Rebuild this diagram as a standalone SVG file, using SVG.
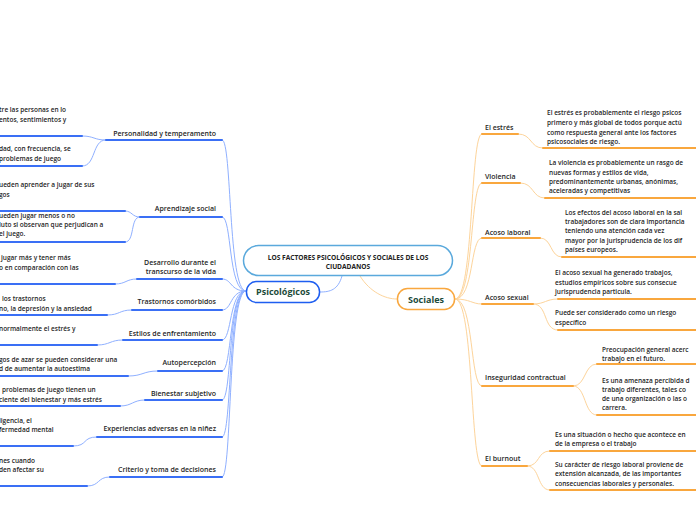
<svg xmlns="http://www.w3.org/2000/svg" width="696" height="520" viewBox="0 0 696 520">
<style>
text{font-family:"Open Sans","Noto Sans","Liberation Sans",sans-serif;fill:#262626;font-weight:600}
.t{font-size:7px}
.l{font-size:6.5px}
.tl{text-anchor:end}
.ct{font-size:6.6px;font-weight:700;text-anchor:middle;fill:#222}
.ub{stroke:#3a6ff5;stroke-width:2;fill:none;stroke-linecap:round}
.cb{stroke:#8fb0ff;stroke-width:1;fill:none}
.uo{stroke:#f9a73e;stroke-width:2;fill:none;stroke-linecap:round}
.co{stroke:#fdd49b;stroke-width:1;fill:none}
.nd{font-size:9px;font-weight:700;fill:#1d4b3a;text-anchor:middle}
</style>
<rect width="696" height="520" fill="#ffffff"/>
<g id="connectors">
<path class="cb" d="M342 276 C338 290 330 292 320 292"/>
<path class="co" d="M360 276 C370 292 385 299 397 299"/>
<path class="cb" d="M246 291 C228 291 232 140 222 140"/>
<path class="cb" d="M246 291 C228 291 232 217 222 217"/>
<path class="cb" d="M246 291 C230 291 232 279 222 279"/>
<path class="cb" d="M246 291 C230 291 232 310 222 310"/>
<path class="cb" d="M246 291 C229 291 232 340 222 340"/>
<path class="cb" d="M246 291 C229 291 232 371 222 371"/>
<path class="cb" d="M246 291 C228 291 232 400 222 400"/>
<path class="cb" d="M246 291 C228 291 232 437 222 437"/>
<path class="cb" d="M246 291 C228 291 232 477 222 477"/>
<path class="cb" d="M82 136 C94 136 94 140 106 140"/>
<path class="cb" d="M82 166 C96 166 92 140 106 140"/>
<path class="cb" d="M125 211 C132 211 132 217 140 217"/>
<path class="cb" d="M125 242 C135 242 130 217 140 217"/>
<path class="cb" d="M115 284 C126 284 126 279 137 279"/>
<path class="cb" d="M107 315 C120 315 119 310 132 310"/>
<path class="cb" d="M97 345 C110 345 110 340 123 340"/>
<path class="cb" d="M128 376 C143 376 143 371 158 371"/>
<path class="cb" d="M120 406 C132 406 133 400 145 400"/>
<path class="cb" d="M73 446 C88 446 82 437 97 437"/>
<path class="cb" d="M87 486 C100 486 97 477 110 477"/>
<path class="co" d="M455 299 C474 299 470 134 482 134"/>
<path class="co" d="M455 299 C474 299 470 183 482 183"/>
<path class="co" d="M455 299 C474 299 470 238 482 238"/>
<path class="co" d="M455 299 C470 299 472 304 482 304"/>
<path class="co" d="M455 299 C474 299 470 386 482 386"/>
<path class="co" d="M455 299 C474 299 470 466 482 466"/>
<path class="co" d="M518 134 C532 134 530 148 543 148"/>
<path class="co" d="M520 183 C534 183 532 198 545 198"/>
<path class="co" d="M540 238 C552 238 550 257 562 257"/>
<path class="co" d="M533 304 C545 304 546 299 558 299"/>
<path class="co" d="M533 304 C548 304 543 330 558 330"/>
<path class="co" d="M573 386 C586 386 584 364 597 364"/>
<path class="co" d="M573 386 C586 386 584 415 597 415"/>
<path class="co" d="M527 466 C540 466 537 451 550 451"/>
<path class="co" d="M527 466 C540 466 537 490 550 490"/>
</g>
<g id="central">
<rect x="243.5" y="245.5" width="209" height="30" rx="15" fill="#ffffff" stroke="#5aa9dc" stroke-width="1.5"/>
<text class="ct" x="348" y="260">LOS FACTORES PSICOLÓGICOS Y SOCIALES DE LOS</text>
<text class="ct" x="348" y="269">CIUDADANOS</text>
</g>
<g id="psicologicos">
<rect x="246.5" y="281.5" width="73" height="21" rx="10" fill="#ffffff" stroke="#1e5ef0" stroke-width="1.5"/>
<text class="nd" x="283" y="295">Psicológicos</text>
</g>
<g id="sociales">
<rect x="397.5" y="288.5" width="57" height="21" rx="10" fill="#ffffff" stroke="#f9a73e" stroke-width="1.5"/>
<text class="nd" x="426" y="302.5">Sociales</text>
</g>
<g id="personalidad">
<text class="t tl" x="216" y="135.5">Personalidad y temperamento</text>
<path class="ub" d="M106 140 H222"/>
</g>
<g id="leaf-p1">
<text class="l" x="-1" y="111.5">tre las personas en lo</text>
<text class="l" x="-1" y="121.5">entos, sentimientos y</text>
<path class="ub" d="M-2 136 H82"/>
</g>
<g id="leaf-p2">
<text class="l" x="-1" y="150.5">dad, con frecuencia, se</text>
<text class="l" x="-1" y="160.5">problemas de juego</text>
<path class="ub" d="M-2 166 H82"/>
</g>
<g id="aprendizaje">
<text class="t tl" x="216" y="210.5">Aprendizaje social</text>
<path class="ub" d="M140 217 H222"/>
</g>
<g id="leaf-a1">
<text class="l" x="-1" y="186.5">ueden aprender a jugar de sus</text>
<text class="l" x="-1" y="196.5">gos</text>
<path class="ub" d="M-2 211 H125"/>
</g>
<g id="leaf-a2">
<text class="l" x="-1" y="217.5">ueden jugar menos o no</text>
<text class="l" x="-1" y="226.5">luto si observan que perjudican a</text>
<text class="l" x="-1" y="235.5">el juego.</text>
<path class="ub" d="M-2 242 H125"/>
</g>
<g id="desarrollo">
<text class="t tl" x="216" y="264.5">Desarrollo durante el</text>
<text class="t tl" x="216" y="273.5">transcurso de la vida</text>
<path class="ub" d="M137 279 H222"/>
</g>
<g id="leaf-d1">
<text class="l" x="1" y="259.5">jugar más y tener más</text>
<text class="l" x="-1" y="269.5">o en comparación con las</text>
<path class="ub" d="M-2 284 H115"/>
</g>
<g id="trastornos">
<text class="t tl" x="216" y="303.5">Trastornos comórbidos</text>
<path class="ub" d="M132 310 H222"/>
</g>
<g id="leaf-t1">
<text class="l" x="2" y="300.5">los trastornos</text>
<text class="l" x="-1" y="310.5">no, la depresión y la ansiedad</text>
<path class="ub" d="M-2 315 H107"/>
</g>
<g id="estilos">
<text class="t tl" x="216" y="335.5">Estilos de enfrentamiento</text>
<path class="ub" d="M123 340 H222"/>
</g>
<g id="leaf-e1">
<text class="l" x="-1" y="330.5">normalmente el estrés y</text>
<path class="ub" d="M-2 345 H97"/>
</g>
<g id="autopercepcion">
<text class="t tl" x="216" y="364.5">Autopercepción</text>
<path class="ub" d="M158 371 H222"/>
</g>
<g id="leaf-au1">
<text class="l" x="-1" y="361.5">gos de azar se pueden considerar una</text>
<text class="l" x="-1" y="370.5">d de aumentar la autoestima</text>
<path class="ub" d="M-2 376 H128"/>
</g>
<g id="bienestar">
<text class="t tl" x="216" y="395.5">Bienestar subjetivo</text>
<path class="ub" d="M145 400 H222"/>
</g>
<g id="leaf-b1">
<text class="l" x="2" y="391.5">problemas de juego tienen un</text>
<text class="l" x="-1" y="401.5">ciente del bienestar y más estrés</text>
<path class="ub" d="M-2 406 H120"/>
</g>
<g id="experiencias">
<text class="t tl" x="216" y="430.5">Experiencias adversas en la niñez</text>
<path class="ub" d="M97 437 H222"/>
</g>
<g id="leaf-x1">
<text class="l" x="-1" y="422.5">ligencia, el</text>
<text class="l" x="-1" y="431.5">fermedad mental</text>
<path class="ub" d="M-2 446 H73"/>
</g>
<g id="criterio">
<text class="t tl" x="216" y="471.5">Criterio y toma de decisiones</text>
<path class="ub" d="M110 477 H222"/>
</g>
<g id="leaf-c1">
<text class="l" x="-1" y="462.5">nes cuando</text>
<text class="l" x="-1" y="471.5">den afectar su</text>
<path class="ub" d="M-2 486 H87"/>
</g>
<g id="estres">
<text class="t" x="485" y="129.5">El estrés</text>
<path class="uo" d="M482 134 H518"/>
</g>
<g id="leaf-estres">
<text class="l" x="547" y="115">El estrés es probablemente el riesgo psicos</text>
<text class="l" x="547" y="125">primero y más global de todos porque actú</text>
<text class="l" x="547" y="134.5">como respuesta general ante los factores</text>
<text class="l" x="547" y="144">psicosociales de riesgo.</text>
<path class="uo" d="M543 148 H698"/>
</g>
<g id="violencia">
<text class="t" x="485" y="178.5">Violencia</text>
<path class="uo" d="M482 183 H520"/>
</g>
<g id="leaf-violencia">
<text class="l" x="549" y="164.5">La violencia es probablemente un rasgo de</text>
<text class="l" x="549" y="174.5">nuevas formas y estilos de vida,</text>
<text class="l" x="549" y="183.5">predominantemente urbanas, anónimas,</text>
<text class="l" x="549" y="192.5">aceleradas y competitivas</text>
<path class="uo" d="M545 198 H698"/>
</g>
<g id="acoso-laboral">
<text class="t" x="485" y="234.5">Acoso laboral</text>
<path class="uo" d="M482 238 H540"/>
</g>
<g id="leaf-laboral">
<text class="l" x="565" y="214.5">Los efectos del acoso laboral en la sal</text>
<text class="l" x="565" y="223.5">trabajadores son de clara importancia</text>
<text class="l" x="565" y="232.5">teniendo una atención cada vez</text>
<text class="l" x="565" y="242.5">mayor por la jurisprudencia de los dif</text>
<text class="l" x="565" y="251.5">países europeos.</text>
<path class="uo" d="M562 257 H698"/>
</g>
<g id="acoso-sexual">
<text class="t" x="485" y="299.5">Acoso sexual</text>
<path class="uo" d="M482 304 H533"/>
</g>
<g id="leaf-sexual1">
<text class="l" x="555" y="274.5">El acoso sexual ha generado trabajos,</text>
<text class="l" x="555" y="284.5">estudios empíricos sobre sus consecue</text>
<text class="l" x="555" y="293.5">jurisprudencia particula.</text>
<path class="uo" d="M558 299 H698"/>
</g>
<g id="leaf-sexual2">
<text class="l" x="555" y="314.5">Puede ser considerado como un riesgo</text>
<text class="l" x="555" y="324.5">específico</text>
<path class="uo" d="M558 330 H698"/>
</g>
<g id="inseguridad">
<text class="t" x="485" y="379.5">Inseguridad contractual</text>
<path class="uo" d="M482 386 H573"/>
</g>
<g id="leaf-inseg1">
<text class="l" x="602" y="351.5">Preocupación general acerc</text>
<text class="l" x="602" y="360.5">trabajo en el futuro.</text>
<path class="uo" d="M597 364 H698"/>
</g>
<g id="leaf-inseg2">
<text class="l" x="602" y="382.5">Es una amenaza percibida d</text>
<text class="l" x="602" y="391.5">trabajo diferentes, tales co</text>
<text class="l" x="602" y="400.5">de una organización o las o</text>
<text class="l" x="602" y="409.5">carrera.</text>
<path class="uo" d="M597 415 H698"/>
</g>
<g id="burnout">
<text class="t" x="485" y="460.5">El burnout</text>
<path class="uo" d="M482 466 H527"/>
</g>
<g id="leaf-burnout1">
<text class="l" x="555" y="436.5">Es una situación o hecho que acontece en</text>
<text class="l" x="555" y="445.5">de la empresa o el trabajo</text>
<path class="uo" d="M550 451 H698"/>
</g>
<g id="leaf-burnout2">
<text class="l" x="555" y="466.5">Su carácter de riesgo laboral proviene de</text>
<text class="l" x="555" y="475.5">extensión alcanzada, de las importantes</text>
<text class="l" x="555" y="485.5">consecuencias laborales y personales.</text>
<path class="uo" d="M550 490 H698"/>
</g>
</svg>
